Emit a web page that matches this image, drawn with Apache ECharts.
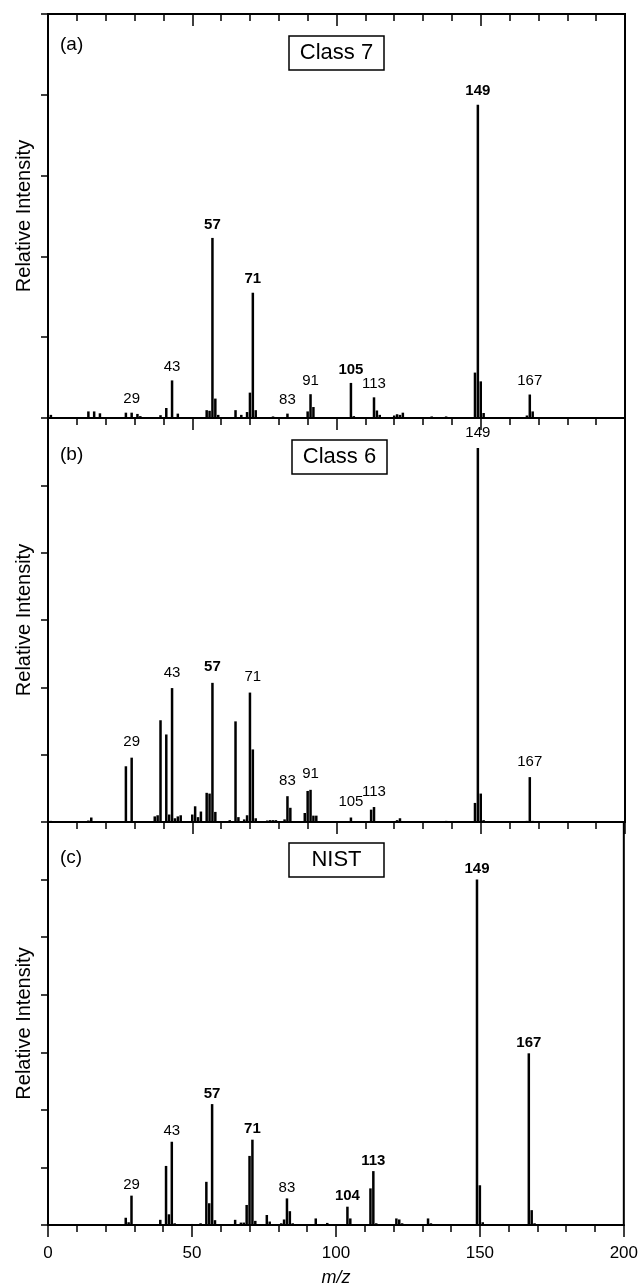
<!DOCTYPE html>
<html>
<head>
<meta charset="utf-8">
<title>Mass spectra</title>
<script src="https://cdn.jsdelivr.net/npm/echarts@6/dist/echarts.min.js"></script>
<style>
  html, body { margin: 0; padding: 0; background: #fff; }
  #chart { width: 641px; height: 1288px; }
</style>
</head>
<body>
<div id="chart"></div>
<script>
// Spectrum peaks: [m/z, relative intensity (%, base peak 149 = 100)]
const peaksClass7 = [
  [1, 1.0], [14, 2.1], [16, 2.1], [18, 1.5], [27, 1.7], [29, 1.7], [31, 1.3], [32, 0.6],
  [39, 0.9], [41, 3.2], [43, 12.0], [45, 1.4], [55, 2.5], [56, 2.3], [57, 57.5], [58, 6.2],
  [59, 1.0], [65, 2.5], [67, 1.0], [69, 1.9], [70, 8.1], [71, 40.0], [72, 2.5], [78, 0.5],
  [83, 1.4], [90, 2.1], [91, 7.6], [92, 3.5], [105, 11.2], [106, 0.6], [113, 6.6], [114, 2.4],
  [115, 1.0], [120, 0.8], [121, 1.2], [122, 1.0], [123, 1.7], [133, 0.5], [138, 0.5],
  [148, 14.5], [149, 100], [150, 11.7], [151, 1.6], [166, 0.8], [167, 7.5], [168, 2.1]
];
const peaksClass6 = [
  [1, 0.3], [14, 0.4], [15, 1.2], [27, 14.9], [29, 17.2], [37, 1.5], [38, 1.8], [39, 27.2],
  [41, 23.4], [42, 2.0], [43, 35.8], [44, 1.0], [45, 1.5], [46, 1.8], [50, 2.0], [51, 4.2],
  [52, 1.3], [53, 2.8], [55, 7.8], [56, 7.6], [57, 37.2], [58, 2.7], [63, 0.5], [65, 26.9],
  [66, 1.3], [68, 0.7], [69, 1.8], [70, 34.6], [71, 19.4], [72, 1.0], [76, 0.4], [77, 0.5],
  [78, 0.5], [79, 0.5], [82, 0.7], [83, 6.9], [84, 3.8], [89, 2.4], [90, 8.3], [91, 8.6],
  [92, 1.7], [93, 1.7], [105, 1.2], [112, 3.3], [113, 4.0], [121, 0.5], [122, 1.0], [138, 0.3],
  [148, 5.1], [149, 100], [150, 7.6], [151, 0.5], [166, 0.3], [167, 12.0], [168, 0.3]
];
const peaksNist = [
  [18, 0.2], [27, 2.1], [28, 0.8], [29, 8.5], [39, 1.5], [41, 17.1], [42, 3.1], [43, 24.1],
  [44, 0.5], [50, 0.3], [53, 0.5], [55, 12.5], [56, 6.3], [57, 35.0], [58, 1.4], [65, 1.5],
  [67, 0.7], [68, 0.7], [69, 5.8], [70, 20.0], [71, 24.7], [72, 1.2], [76, 2.9], [77, 1.0],
  [81, 0.5], [82, 1.6], [83, 7.7], [84, 4.0], [85, 0.5], [93, 1.9], [97, 0.6], [104, 5.3],
  [105, 1.9], [112, 10.6], [113, 15.6], [114, 0.5], [121, 1.9], [122, 1.6], [123, 0.5],
  [132, 1.9], [133, 0.5], [149, 100], [150, 11.5], [151, 0.8], [162, 0.2], [167, 49.7],
  [168, 4.3], [169, 0.5]
];

// Annotated m/z values per spectrum; bold ones listed separately
const labelsClass7 = [29, 43, 57, 71, 83, 91, 105, 113, 149, 167];
const boldClass7 = [57, 71, 105, 149];
const labelsClass6 = [29, 43, 57, 71, 83, 91, 105, 113, 149, 167];
const boldClass6 = [57];
const labelsNist = [29, 43, 57, 71, 83, 104, 113, 149, 167];
const boldNist = [57, 71, 104, 113, 149, 167];

const panelTags = ['(a)', '(b)', '(c)'];
const panelNames = ['Class 7', 'Class 6', 'NIST'];
const xTicks = [0, 50, 100, 150, 200];

const FONT = '"Liberation Sans", Arial, Helvetica, sans-serif';

// Panel geometry (pixels) and vertical scale of each panel
const panels = [
  { peaks: peaksClass7, labels: labelsClass7, bold: boldClass7, top: 14,  height: 404, yMax: 129,   yStep: 25.8,  labelGap: 6, tagY: 44.5, boxY: 36,  boxX: 289 },
  { peaks: peaksClass6, labels: labelsClass6, bold: boldClass6, top: 418, height: 404, yMax: 108,   yStep: 18,    labelGap: 8, tagY: 455,  boxY: 440, boxX: 292 },
  { peaks: peaksNist,   labels: labelsNist,   bold: boldNist,   top: 822, height: 405, yMax: 350/3, yStep: 50/3,  labelGap: 3, tagY: 858,  boxY: 843, boxX: 289 }
];

const GRID_LEFT = 48, GRID_WIDTH = 577;

// Label anchor: tallest peak within one unit of the annotated m/z
function labelHeight(peaks, mz) {
  let h = 0;
  peaks.forEach(p => { if (Math.abs(p[0] - mz) <= 1 && p[1] > h) h = p[1]; });
  return h;
}

const grid = [], xAxis = [], yAxis = [], series = [], graphic = [];

panels.forEach((p, i) => {
  const last = i === panels.length - 1;
  grid.push({
    left: GRID_LEFT, width: GRID_WIDTH, top: p.top, height: p.height,
    show: true, borderColor: '#000', borderWidth: 2, backgroundColor: 'transparent'
  });

  const xBase = {
    type: 'value', gridIndex: i, min: 0, max: 200, interval: 50,
    axisLine: { show: true, onZero: false, lineStyle: { color: '#000', width: 2 } },
    axisTick: { show: true, length: 12, lineStyle: { color: '#000', width: 1.5 } },
    minorTick: { show: true, splitNumber: 5, length: 7, lineStyle: { color: '#000', width: 1.5 } },
    splitLine: { show: false }, minorSplitLine: { show: false }
  };
  xAxis.push(Object.assign({}, xBase, {
    position: 'bottom',
    axisLabel: {
      show: last, margin: 20, color: '#000', fontSize: 17, fontFamily: FONT,
      customValues: xTicks
    },
    name: last ? 'm/z' : '', nameLocation: 'middle', nameGap: 44,
    nameTextStyle: { color: '#000', fontSize: 18, fontStyle: 'italic', fontFamily: FONT }
  }));
  if (i === 0) {
    xAxis.push(Object.assign({}, xBase, {
      position: 'top',
      axisTick: Object.assign({}, xBase.axisTick, { inside: true }),
      axisLabel: { show: false }
    }));
  }

  yAxis.push({
    type: 'value', gridIndex: i, position: 'left', min: 0, max: p.yMax, interval: p.yStep,
    axisLine: { show: true, onZero: false, lineStyle: { color: '#000', width: 2 } },
    axisTick: { show: true, length: 7, lineStyle: { color: '#000', width: 1.5 } },
    axisLabel: { show: false },
    splitLine: { show: false },
    name: 'Relative Intensity', nameLocation: 'middle', nameGap: 14,
    nameTextStyle: { color: '#000', fontSize: 20, fontFamily: FONT }
  });

  const xIdx = i === 0 ? 0 : i + 1;

  series.push({
    type: 'bar', xAxisIndex: xIdx, yAxisIndex: i,
    data: p.peaks, barWidth: 2.5, barGap: '-100%',
    itemStyle: { color: '#000' }, silent: true
  });

  // Peak annotations: a near-invisible anchor at each labelled peak top
  series.push({
    type: 'scatter', xAxisIndex: xIdx, yAxisIndex: i,
    symbol: 'rect', symbolSize: [0.01, 0.01],
    itemStyle: { color: '#000', opacity: 1 }, silent: true, z: 5,
    emphasis: { disabled: true },
    data: p.labels.map(mz => ({
      value: [mz, labelHeight(p.peaks, mz)],
      label: { fontWeight: p.bold.indexOf(mz) >= 0 ? 'bold' : 'normal' }
    })),
    label: {
      show: true, position: 'top', distance: p.labelGap,
      color: '#000', opacity: 1, fontSize: 15, fontFamily: FONT,
      formatter: d => String(d.value[0])
    }
  });

  // Panel tag and boxed spectrum name
  graphic.push({
    type: 'text', x: 60, y: p.tagY,
    style: { text: panelTags[i], fill: '#000', font: '19px ' + FONT, verticalAlign: 'middle' }
  });
  graphic.push({
    type: 'rect', shape: { x: p.boxX, y: p.boxY, width: 95, height: 34 },
    style: { fill: '#fff', stroke: '#000', lineWidth: 1.5 }
  });
  graphic.push({
    type: 'text', x: p.boxX + 47.5, y: p.boxY + 17,
    style: { text: panelNames[i], fill: '#000', font: '22px ' + FONT, align: 'center', verticalAlign: 'middle' }
  });
});

const chart = echarts.init(document.getElementById('chart'), null, { renderer: 'canvas' });
chart.setOption({
  animation: false,
  backgroundColor: '#fff',
  textStyle: { fontFamily: FONT },
  grid, xAxis, yAxis, series, graphic
});
</script>
</body>
</html>
